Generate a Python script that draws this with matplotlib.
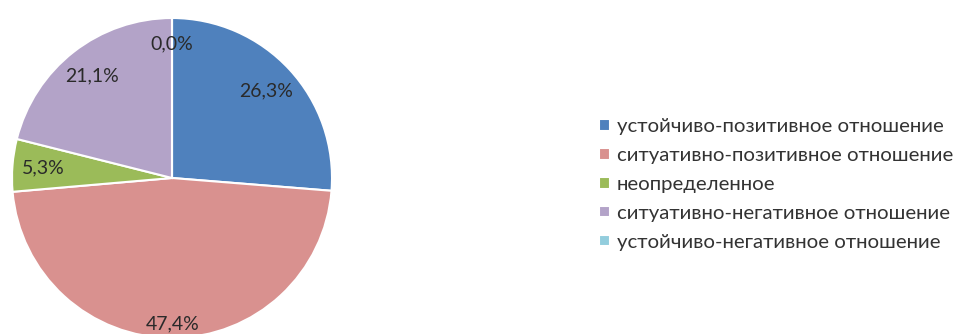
import matplotlib
matplotlib.use("Agg")
import matplotlib.pyplot as plt
import numpy as np

categories = [
    "устойчиво-позитивное отношение",
    "ситуативно-позитивное отношение",
    "неопределенное",
    "ситуативно-негативное отношение",
    "устойчиво-негативное отношение",
]
shares = [26.3, 47.4, 5.3, 21.1, 0.0]
value_labels = ["26,3%", "47,4%", "5,3%", "21,1%", "0,0%"]
colors = ["#4F81BD", "#D9918F", "#9BBB59", "#B3A3C8", "#93CDDD"]

plt.rcParams["font.family"] = ["Lato", "DejaVu Sans"]

W, H = 964, 334
fig = plt.figure(figsize=(W / 100, H / 100), dpi=100)
fig.patch.set_facecolor("white")

cx, cy, r = 172, 178, 160
ax = fig.add_axes([(cx - r) / W, (H - cy - r) / H, 2 * r / W, 2 * r / H])

wedges, _ = ax.pie(
    shares,
    colors=colors,
    startangle=90,
    counterclock=False,
    radius=1,
    wedgeprops=dict(edgecolor="white", linewidth=1.5),
)
ax.set_xlim(-1, 1)
ax.set_ylim(-1, 1)
ax.set_aspect("equal")
ax.axis("off")

# radial placement of the value labels
label_dist = [0.80, 0.91, 0.81, 0.81, 0.84]
for w, txt, d in zip(wedges, value_labels, label_dist):
    ang = np.deg2rad((w.theta1 + w.theta2) / 2)
    ax.text(d * np.cos(ang), d * np.sin(ang), txt, ha="center", va="center",
            fontsize=14, color="#2a2a2a", clip_on=False)

leg = fig.legend(
    wedges, categories,
    loc="upper left",
    bbox_to_anchor=(581 / W, 1 - 100 / H),
    frameon=False,
    fontsize=14.7,
    handlelength=0.5,
    handleheight=0.5,
    handletextpad=0.35,
    labelspacing=0.58,
    labelcolor="#333333",
)

fig.savefig("out.png", dpi=100)
